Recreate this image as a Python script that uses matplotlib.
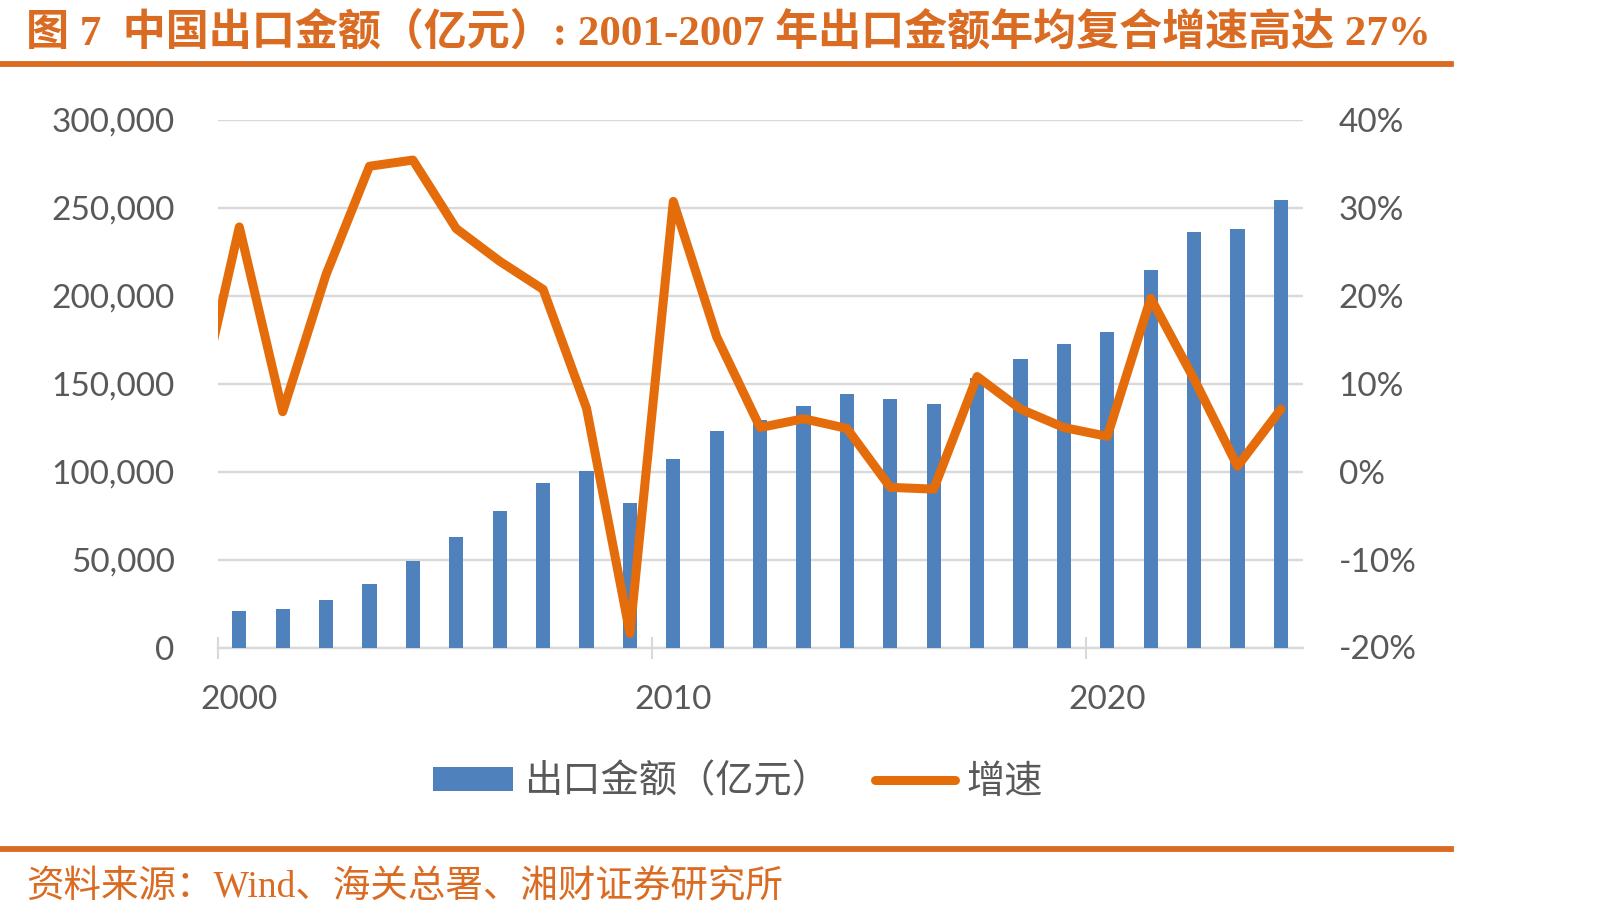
import numpy as np
import matplotlib
matplotlib.use("Agg")
import matplotlib.pyplot as plt
from matplotlib.ticker import FuncFormatter, FixedLocator
from matplotlib.patches import Patch
from matplotlib.lines import Line2D

# ---------------- data ----------------
years = np.array([1999, 2000, 2001, 2002, 2003, 2004, 2005, 2006, 2007, 2008, 2009,
                  2010, 2011, 2012, 2013, 2014, 2015, 2016, 2017, 2018, 2019,
                  2020, 2021, 2022, 2023, 2024])
exports = np.array([16160, 20634, 22024, 26948, 36288, 49103, 62648, 77597, 93627, 100395, 82030,
                    107023, 123241, 129359, 137131, 143884, 141167, 138419, 153309, 164128, 172342,
                    179279, 214255, 236337, 237726, 254545])
growth = np.array([6.1, 27.8, 6.8, 22.4, 34.7, 35.4, 27.6, 23.9, 20.7, 7.2, -18.4,
                   30.7, 15.3, 5.0, 6.0, 4.9, -1.8, -2.0, 10.8, 7.1, 5.0,
                   4.0, 19.7, 10.5, 0.6, 7.1]) / 100.0
left_ticks = [0, 50000, 100000, 150000, 200000, 250000, 300000]
right_ticks = [-0.2, -0.1, 0.0, 0.1, 0.2, 0.3, 0.4]
x_label_years = [2000, 2010, 2020]

title = "图 7  中国出口金额（亿元）: 2001-2007 年出口金额年均复合增速高达 27%"
source = "资料来源：Wind、海关总署、湘财证券研究所"
bar_name = "出口金额（亿元）"
line_name = "增速"

# ---------------- style ----------------
ORANGE_TXT = "#DA6B22"
BAR = "#4F81BD"
LINE = "#E46C0A"
GRID = "#D9D9D9"
TXT = "#595959"
CJK = "Noto Sans CJK SC"

W, H = 1602, 918
fig = plt.figure(figsize=(W / 100, H / 100), dpi=100)

ax = fig.add_axes([217.6 / W, 1 - 647.5 / H, (1302.6 - 217.6) / W, (647.5 - 119.6) / H])
ax2 = ax.twinx()

pos = years + 0.5
ax.bar(pos, exports, width=0.33, color=BAR, zorder=3)
ax2.plot(pos, growth, color=LINE, lw=6.5, solid_joinstyle="round",
         solid_capstyle="round", zorder=4)

ax.set_xlim(2000, 2025)
ax.set_ylim(0, 300000)
ax2.set_ylim(-0.2, 0.4)

ax.set_yticks(left_ticks)
ax.yaxis.set_major_formatter(FuncFormatter(lambda v, p: f"{int(v):,}"))
ax2.set_yticks(right_ticks)
ax2.yaxis.set_major_formatter(FuncFormatter(lambda v, p: f"{int(round(v * 100))}%"))

ax.set_axisbelow(True)
ax.yaxis.grid(True, color=GRID, lw=1.7)
for s in ["top", "left", "right"]:
    ax.spines[s].set_visible(False)
    ax2.spines[s].set_visible(False)
ax2.spines["bottom"].set_visible(False)
ax.spines["bottom"].set_color(GRID)
ax.spines["bottom"].set_linewidth(1.7)
ax.spines["bottom"].set_zorder(2)

ax.tick_params(axis="y", length=0, pad=31, labelsize=24, labelcolor=TXT)
ax2.tick_params(axis="y", length=0, pad=26, labelsize=24, labelcolor=TXT)
for lab in ax.get_yticklabels() + ax2.get_yticklabels():
    lab.set_fontfamily("Lato")

# x ticks: marks at year boundaries, labels centred on bars
ax.xaxis.set_major_locator(FixedLocator(x_label_years))
ax.xaxis.set_major_formatter(FuncFormatter(lambda v, p: ""))
ax.xaxis.set_minor_locator(FixedLocator([y + 0.5 for y in x_label_years]))
ax.xaxis.set_minor_formatter(FuncFormatter(lambda v, p: f"{int(v)}"))
ax.tick_params(axis="x", which="major", direction="inout", length=16.5, width=1.5, color=GRID)
ax.tick_params(axis="x", which="minor", length=0, pad=27, labelsize=24, labelcolor=TXT)
for lab in ax.get_xticklabels(minor=True):
    lab.set_fontfamily("Lato")

# legend
handles = [Patch(facecolor=BAR, edgecolor="none"),
           Line2D([0], [0], color=LINE, lw=6.5, solid_capstyle="round")]
leg = fig.legend(handles, [bar_name, line_name], loc="center",
                 bbox_to_anchor=(738 / W, 1 - 782 / H), ncol=2, frameon=False,
                 prop={"family": CJK, "size": 27.5}, labelcolor=TXT,
                 handlelength=2.1, handleheight=0.58, handletextpad=0.3,
                 columnspacing=1.18)

# title, rules, source
fig.text(26 / W, 1 - 33 / H, title, ha="left", va="center", fontsize=31,
         fontweight="bold", color=ORANGE_TXT,
         family=["Liberation Serif", CJK])
fig.add_artist(Line2D([0, 1451 / W], [1 - 63.5 / H] * 2, color=ORANGE_TXT, lw=4.2,
                      transform=fig.transFigure))
fig.add_artist(Line2D([0, 1451 / W], [1 - 849 / H] * 2, color=ORANGE_TXT, lw=4.2,
                      transform=fig.transFigure))
fig.text(26 / W, 1 - 888 / H, source, ha="left", va="center", fontsize=27,
         color=ORANGE_TXT, family=["Liberation Serif", CJK])

fig.savefig("out.png", dpi=100, facecolor="white")
